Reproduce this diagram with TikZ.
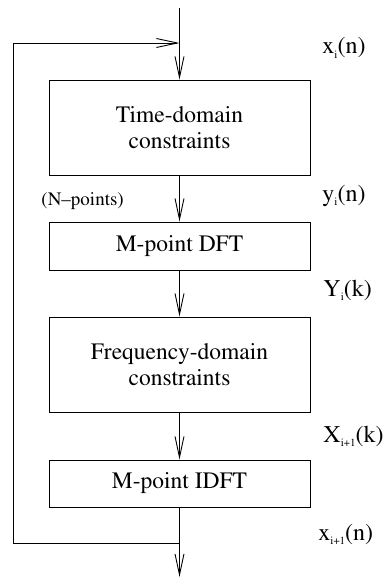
\documentclass[tikz,border=0pt]{standalone}
\usepackage[T1]{fontenc}
\usepackage{mathptmx}
\usetikzlibrary{arrows.meta}
% subscript for the signal labels
\newcommand{\sigsub}[1]{\raisebox{-0.18em}{\fontsize{11}{11}\selectfont #1}}
\begin{document}
\begin{tikzpicture}[x=1pt,y=-1pt,
  line width=0.9pt,
  block/.style={draw, minimum width=261pt, inner sep=0pt, align=center,
    font=\fontsize{23.5}{26}\selectfont},
  sig/.style={inner sep=0pt, anchor=base west, font=\fontsize{24}{24}\selectfont},
  flow/.style={-{Straight Barb[length=21pt,width=9pt,line width=0.9pt]}}]
  \useasboundingbox (0,0) rectangle (387,578);

  % processing blocks
  \node[block, minimum height=95pt] (tdc) at (179.5,127.5) {Time-domain\\constraints};
  \node[block, minimum height=48pt] (dft) at (179.5,246) {M-point DFT};
  \node[block, minimum height=95pt] (fdc) at (179.5,364.5) {Frequency-domain\\constraints};
  \node[block, minimum height=47pt] (idft) at (179.5,483.5) {M-point IDFT};

  % junctions of the main path and feedback loop
  \coordinate (in) at (179.5,8);
  \coordinate (join) at (179.5,43);
  \coordinate (fbtop) at (13,43);
  \coordinate (fbbot) at (13,543);
  \coordinate (split) at (179.5,543);
  \coordinate (out) at (179.5,577);

  % main signal path
  \draw (in) -- (join);
  \draw[flow] (join) -- (tdc.north);
  \draw[flow] (tdc.south) -- (dft.north);
  \draw[flow] (dft.south) -- (fdc.north);
  \draw[flow] (fdc.south) -- (idft.north);
  \draw (idft.south) -- (split);
  \draw[flow] (split) -- (out);

  % feedback loop
  \draw[flow] (split) -- (fbbot) -- (fbtop) -- (join);

  % signal labels
  \node[sig] (lx) at (322,54) {x\sigsub{i}(n)};
  \node[sig] (ly) at (322,201) {y\sigsub{i}(n)};
  \node[sig] (lY) at (323,296) {Y\sigsub{i}(k)};
  \node[sig] (lX) at (323,442) {X\sigsub{i+1}(k)};
  \node[sig] (lx1) at (318,540) {x\sigsub{i+1}(n)};
  \node[sig, font=\fontsize{19}{19}\selectfont] (np) at (41,205) {(N--points)};
\end{tikzpicture}
\end{document}
